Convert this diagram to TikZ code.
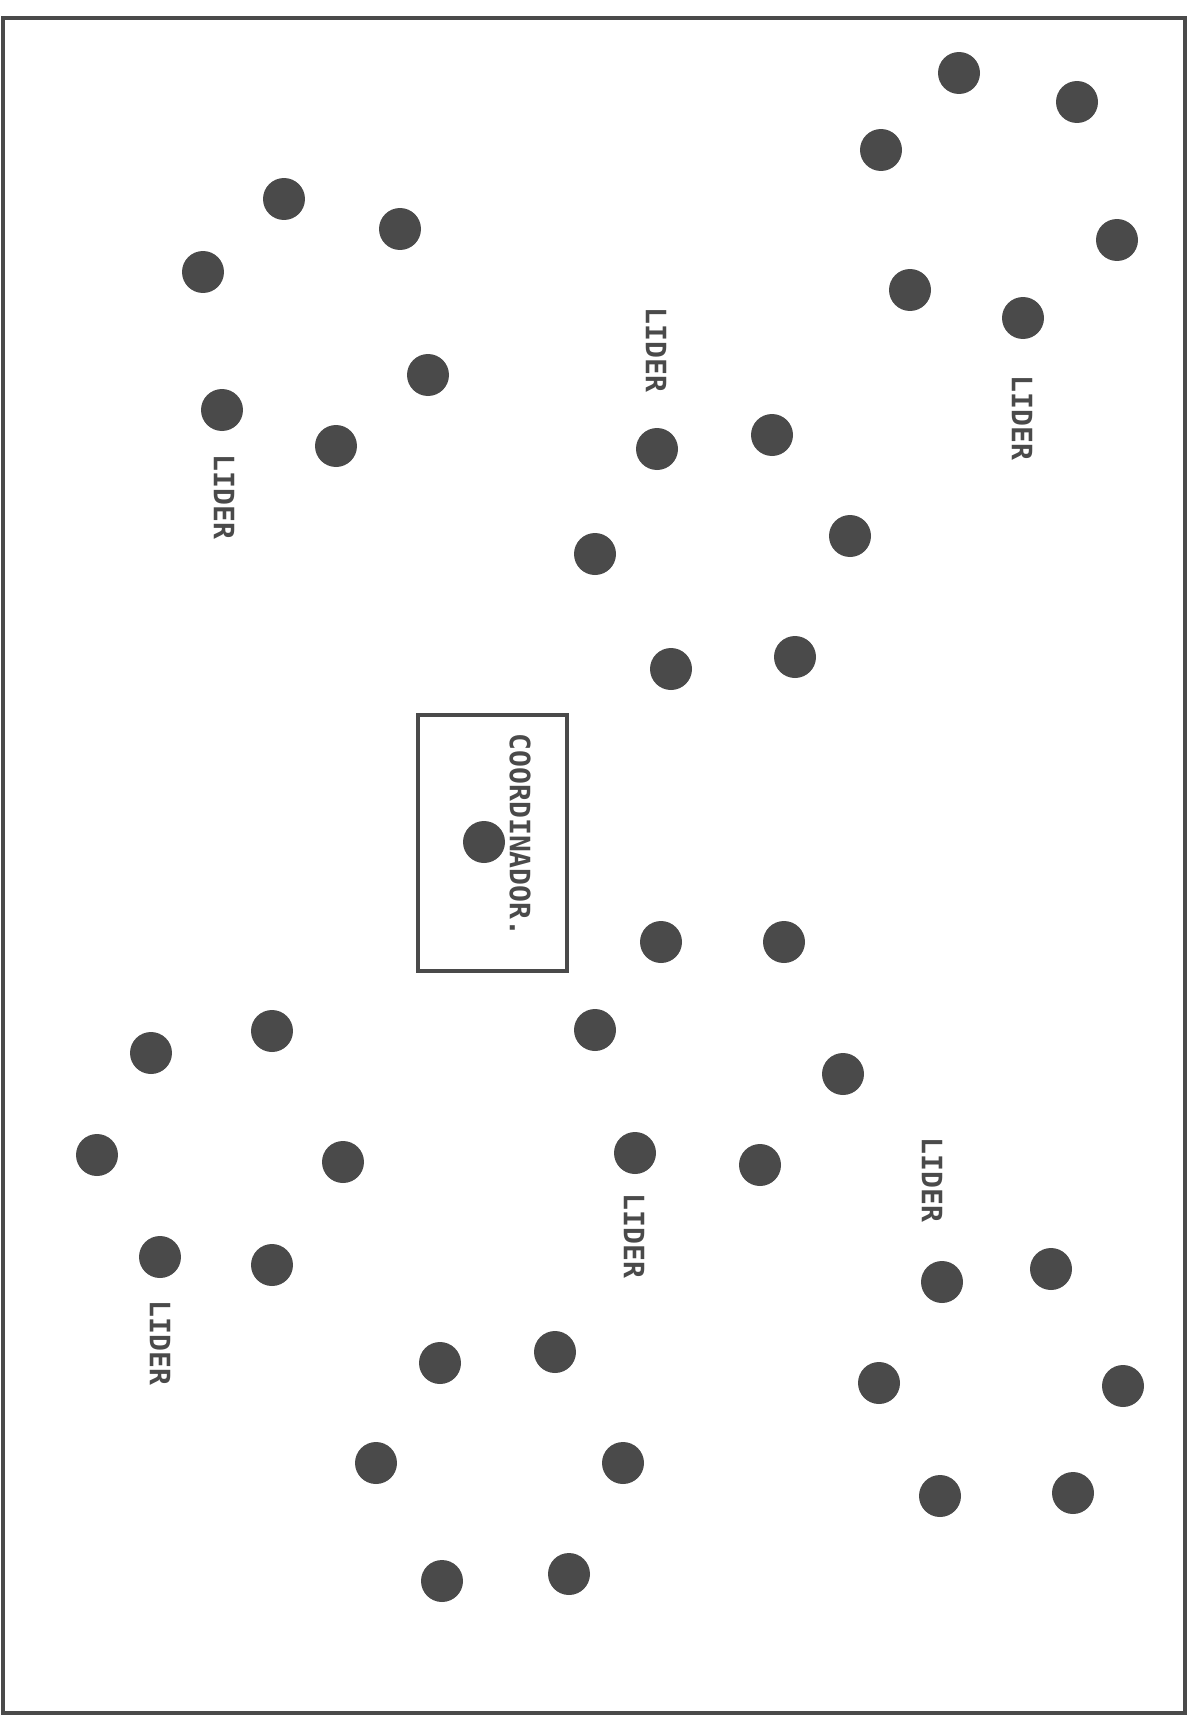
\documentclass[tikz,border=0pt]{standalone}
\usepackage{fontspec}
\setmonofont{DejaVu Sans Mono}
\usetikzlibrary{positioning}
\definecolor{inkgray}{RGB}{74,74,74}

\begin{document}
\begin{tikzpicture}[x=0.02cm, y=-0.02cm,
  pers/.style={circle, fill=inkgray, inner sep=0pt, minimum size=0.84cm},
  rol/.style={rotate=-90, text=inkgray, inner sep=0pt,
    font=\ttfamily\bfseries\fontsize{16}{16}\selectfont},
  coordbox/.style={draw=inkgray, line width=2pt}
]
\useasboundingbox (0,0) rectangle (1196,1724);
\draw[draw=inkgray, line width=2pt] (3,18) rectangle (1185,1713);
% grupo superior derecho
\node[pers] (ad1) at (959,73) {};
\node[pers] (ad2) at (1077,102) {};
\node[pers] (ad3) at (881,150) {};
\node[pers] (ad4) at (1117,240) {};
\node[pers] (ad5) at (910,290) {};
\node[pers] (ad6) at (1023,318) {};
\node[rol] (lad) at (1022,418) {LIDER};
% grupo superior izquierdo
\node[pers] (ai1) at (284,199) {};
\node[pers] (ai2) at (400,229) {};
\node[pers] (ai3) at (203,272) {};
\node[pers] (ai4) at (428,375) {};
\node[pers] (ai5) at (222,410) {};
\node[pers] (ai6) at (336,446) {};
\node[rol] (lai) at (224,497) {LIDER};
% grupo central superior
\node[pers] (ac1) at (657,449) {};
\node[pers] (ac2) at (772,435) {};
\node[pers] (ac3) at (595,554) {};
\node[pers] (ac4) at (850,536) {};
\node[pers] (ac5) at (671,669) {};
\node[pers] (ac6) at (795,657) {};
\node[rol] (lac) at (656,350) {LIDER};
% coordinador
\draw[coordbox] (418,715) rectangle (567,971);
\node[pers] (co) at (484,842) {};
\node[rol] (lco) at (520,835) {COORDINADOR.};
% grupo central inferior
\node[pers] (bc1) at (661,942) {};
\node[pers] (bc2) at (784,942) {};
\node[pers] (bc3) at (595,1030) {};
\node[pers] (bc4) at (843,1074) {};
\node[pers] (bc5) at (635,1153) {};
\node[pers] (bc6) at (760,1165) {};
\node[rol] (lbc) at (634,1236) {LIDER};
% grupo inferior izquierdo
\node[pers] (bi1) at (272,1031) {};
\node[pers] (bi2) at (151,1053) {};
\node[pers] (bi3) at (97,1155) {};
\node[pers] (bi4) at (343,1162) {};
\node[pers] (bi5) at (160,1257) {};
\node[pers] (bi6) at (272,1265) {};
\node[rol] (lbi) at (160,1343) {LIDER};
% grupo inferior medio
\node[pers] (bm1) at (440,1363) {};
\node[pers] (bm2) at (555,1352) {};
\node[pers] (bm3) at (376,1463) {};
\node[pers] (bm4) at (623,1463) {};
\node[pers] (bm5) at (442,1581) {};
\node[pers] (bm6) at (569,1574) {};
% grupo inferior derecho
\node[pers] (bd1) at (942,1282) {};
\node[pers] (bd2) at (1051,1269) {};
\node[pers] (bd3) at (879,1383) {};
\node[pers] (bd4) at (1123,1386) {};
\node[pers] (bd5) at (940,1496) {};
\node[pers] (bd6) at (1073,1493) {};
\node[rol] (lbd) at (932,1180) {LIDER};
\end{tikzpicture}
\end{document}
